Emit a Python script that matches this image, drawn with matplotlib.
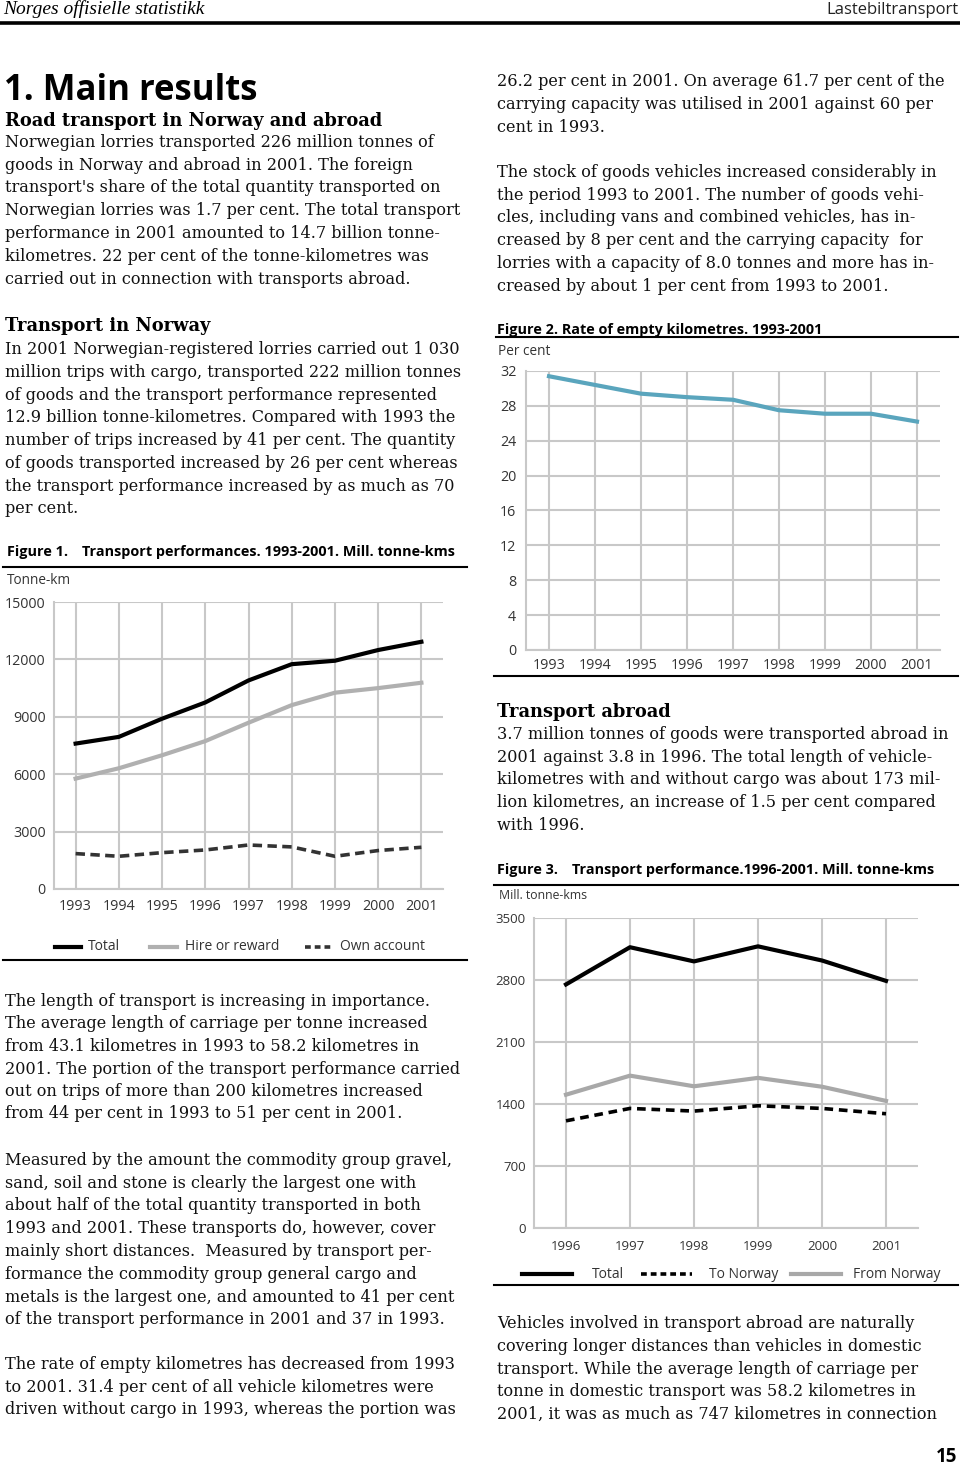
import matplotlib
matplotlib.use("Agg")
import matplotlib.pyplot as plt
from matplotlib.lines import Line2D

# Figure 1: transport performances in Norway, mill. tonne-km
years_norway = [1993, 1994, 1995, 1996, 1997, 1998, 1999, 2000, 2001]
total_norway = [7600, 7950, 8900, 9750, 10900, 11750, 11930, 12490, 12920]
hire_reward = [5770, 6310, 6990, 7730, 8690, 9610, 10260, 10500, 10780]
own_account = [1850, 1710, 1900, 2040, 2300, 2200, 1710, 2010, 2180]

# Figure 2: rate of empty kilometres, per cent
empty_rate = [31.4, 30.4, 29.4, 29.0, 28.7, 27.5, 27.1, 27.1, 26.2]

# Figure 3: transport abroad, mill. tonne-kms
years_abroad = [1996, 1997, 1998, 1999, 2000, 2001]
total_abroad = [2750, 3170, 3010, 3180, 3020, 2790]
to_norway = [1210, 1350, 1320, 1380, 1350, 1290]
from_norway = [1505, 1720, 1600, 1695, 1595, 1435]

W, H = 960, 1465
SERIF = "DejaVu Serif"
SANS = "Open Sans"
plt.rcParams["font.family"] = SANS

fig = plt.figure(figsize=(9.6, 14.65), dpi=100)
fig.patch.set_facecolor("white")


def txt(x, y, s, **kw):
    kw.setdefault("va", "baseline")
    fig.text(x / W, 1 - y / H, s, **kw)


def rule(x0, x1, y, lw=1.5, color="black"):
    fig.add_artist(Line2D([x0 / W, x1 / W], [1 - y / H, 1 - y / H], lw=lw,
                          color=color, transform=fig.transFigure))


def para(x, y0, lines, step=22.75):
    for i, line in enumerate(lines):
        txt(x, y0 + i * step, line, family=SERIF, size=11.65, color="#111111")


def chart(left, top, right, bottom, labelsize=10, xpad=6, ypad=6):
    ax = fig.add_axes([left / W, 1 - bottom / H, (right - left) / W, (bottom - top) / H])
    ax.set_facecolor("none")
    for s in ["top", "right"]:
        ax.spines[s].set_visible(False)
    for s in ["left", "bottom"]:
        ax.spines[s].set_color("#c8c8c8")
        ax.spines[s].set_linewidth(1.5)
    ax.grid(True, color="#c8c8c8", lw=1.5)
    ax.set_axisbelow(True)
    ax.tick_params(length=0, labelsize=labelsize, labelcolor="#333333")
    ax.tick_params(axis="x", pad=xpad)
    ax.tick_params(axis="y", pad=ypad)
    return ax


def legend_item(x0, x1, y, tx, label, **kw):
    fig.add_artist(Line2D([x0 / W, x1 / W], [1 - y / H, 1 - y / H],
                          transform=fig.transFigure, **kw))
    txt(tx, y, label, va="center", size=10, color="#333333")


# page header
txt(3, 14, "Norges offisielle statistikk", family="Liberation Serif", style="italic", size=14)
txt(958, 14, "Lastebiltransport", ha="right", size=12, color="#222222")
rule(0, 960, 22.5, lw=2.6)

# left column text
txt(4, 100, "1. Main results", size=25, weight="bold")
txt(5, 126, "Road transport in Norway and abroad", family=SERIF, size=12.9, weight="bold")
para(5, 147, [
    "Norwegian lorries transported 226 million tonnes of",
    "goods in Norway and abroad in 2001. The foreign",
    "transport's share of the total quantity transported on",
    "Norwegian lorries was 1.7 per cent. The total transport",
    "performance in 2001 amounted to 14.7 billion tonne-",
    "kilometres. 22 per cent of the tonne-kilometres was",
    "carried out in connection with transports abroad.",
])
txt(5, 331, "Transport in Norway", family=SERIF, size=12.9, weight="bold")
para(5, 354, [
    "In 2001 Norwegian-registered lorries carried out 1 030",
    "million trips with cargo, transported 222 million tonnes",
    "of goods and the transport performance represented",
    "12.9 billion tonne-kilometres. Compared with 1993 the",
    "number of trips increased by 41 per cent. The quantity",
    "of goods transported increased by 26 per cent whereas",
    "the transport performance increased by as much as 70",
    "per cent.",
])
para(5, 1006, [
    "The length of transport is increasing in importance.",
    "The average length of carriage per tonne increased",
    "from 43.1 kilometres in 1993 to 58.2 kilometres in",
    "2001. The portion of the transport performance carried",
    "out on trips of more than 200 kilometres increased",
    "from 44 per cent in 1993 to 51 per cent in 2001.",
], step=22.5)
para(5, 1165, [
    "Measured by the amount the commodity group gravel,",
    "sand, soil and stone is clearly the largest one with",
    "about half of the total quantity transported in both",
    "1993 and 2001. These transports do, however, cover",
    "mainly short distances.  Measured by transport per-",
    "formance the commodity group general cargo and",
    "metals is the largest one, and amounted to 41 per cent",
    "of the transport performance in 2001 and 37 in 1993.",
])
para(5, 1369, [
    "The rate of empty kilometres has decreased from 1993",
    "to 2001. 31.4 per cent of all vehicle kilometres were",
    "driven without cargo in 1993, whereas the portion was",
])

# right column text
para(497, 86, [
    "26.2 per cent in 2001. On average 61.7 per cent of the",
    "carrying capacity was utilised in 2001 against 60 per",
    "cent in 1993.",
])
para(497, 177, [
    "The stock of goods vehicles increased considerably in",
    "the period 1993 to 2001. The number of goods vehi-",
    "cles, including vans and combined vehicles, has in-",
    "creased by 8 per cent and the carrying capacity  for",
    "lorries with a capacity of 8.0 tonnes and more has in-",
    "creased by about 1 per cent from 1993 to 2001.",
])
txt(497, 717, "Transport abroad", family=SERIF, size=12.9, weight="bold")
para(497, 739, [
    "3.7 million tonnes of goods were transported abroad in",
    "2001 against 3.8 in 1996. The total length of vehicle-",
    "kilometres with and without cargo was about 173 mil-",
    "lion kilometres, an increase of 1.5 per cent compared",
    "with 1996.",
])
para(497, 1328, [
    "Vehicles involved in transport abroad are naturally",
    "covering longer distances than vehicles in domestic",
    "transport. While the average length of carriage per",
    "tonne in domestic transport was 58.2 kilometres in",
    "2001, it was as much as 747 kilometres in connection",
])
txt(957, 1462, "15", ha="right", size=13.5, weight="bold")

# Figure 1
txt(7, 556, "Figure 1.", size=10.4, weight="bold")
txt(82, 556, "Transport performances. 1993-2001. Mill. tonne-kms", size=10.4, weight="bold")
rule(3, 467, 567)
txt(7, 584, "Tonne-km", size=9.8, color="#333333")
ax1 = chart(54, 602, 443, 889, labelsize=10.3, xpad=7, ypad=6)
ax1.plot(years_norway, total_norway, color="black", lw=3)
ax1.plot(years_norway, hire_reward, color="#b0b0b0", lw=3)
ax1.plot(years_norway, own_account, color="#333333", lw=2.6, dashes=(2.6, 1.5))
ax1.set_xlim(1992.5, 2001.5)
ax1.set_ylim(0, 15000)
ax1.set_xticks(years_norway)
ax1.set_yticks(range(0, 15001, 3000))
legend_item(55, 81, 947, 88, "Total", color="black", lw=3)
legend_item(150, 177, 947, 185, "Hire or reward", color="#b0b0b0", lw=3)
legend_item(305, 333, 947, 340, "Own account", color="#333333", lw=2.6, dashes=(1.6, 1.1))
rule(3, 467, 960)

# Figure 2
txt(497, 334, "Figure 2. Rate of empty kilometres. 1993-2001", size=10.4, weight="bold")
rule(496, 958, 337)
txt(498, 355, "Per cent", size=9.8, color="#333333")
ax2 = chart(526, 371, 940, 650, labelsize=10.3, xpad=6, ypad=7)
ax2.plot(years_norway, empty_rate, color="#5aa5bd", lw=3)
ax2.set_xlim(1992.5, 2001.5)
ax2.set_ylim(0, 32)
ax2.set_xticks(years_norway)
ax2.set_yticks(range(0, 33, 4))
rule(494, 958, 676)

# Figure 3
txt(497, 874, "Figure 3.", size=10.4, weight="bold")
txt(572, 874, "Transport performance.1996-2001. Mill. tonne-kms", size=10.4, weight="bold")
rule(494, 958, 885)
txt(499, 899, "Mill. tonne-kms", size=8.8, color="#333333")
ax3 = chart(534, 918, 918, 1228, labelsize=9.5, xpad=9, ypad=6)
ax3.plot(years_abroad, total_abroad, color="black", lw=3)
ax3.plot(years_abroad, from_norway, color="#a8a8a8", lw=3)
ax3.plot(years_abroad, to_norway, color="black", lw=2.6, dashes=(2.4, 1.6))
ax3.set_xlim(1995.5, 2001.5)
ax3.set_ylim(0, 3500)
ax3.set_xticks(years_abroad)
ax3.set_yticks(range(0, 3501, 700))
legend_item(522, 572, 1274, 592, "Total", color="black", lw=3)
legend_item(641, 692, 1274, 709, "To Norway", color="black", lw=2.6, dashes=(1.6, 1.1))
legend_item(791, 841, 1274, 853, "From Norway", color="#a8a8a8", lw=3)
rule(494, 958, 1285)

fig.savefig("out.png", dpi=100)
